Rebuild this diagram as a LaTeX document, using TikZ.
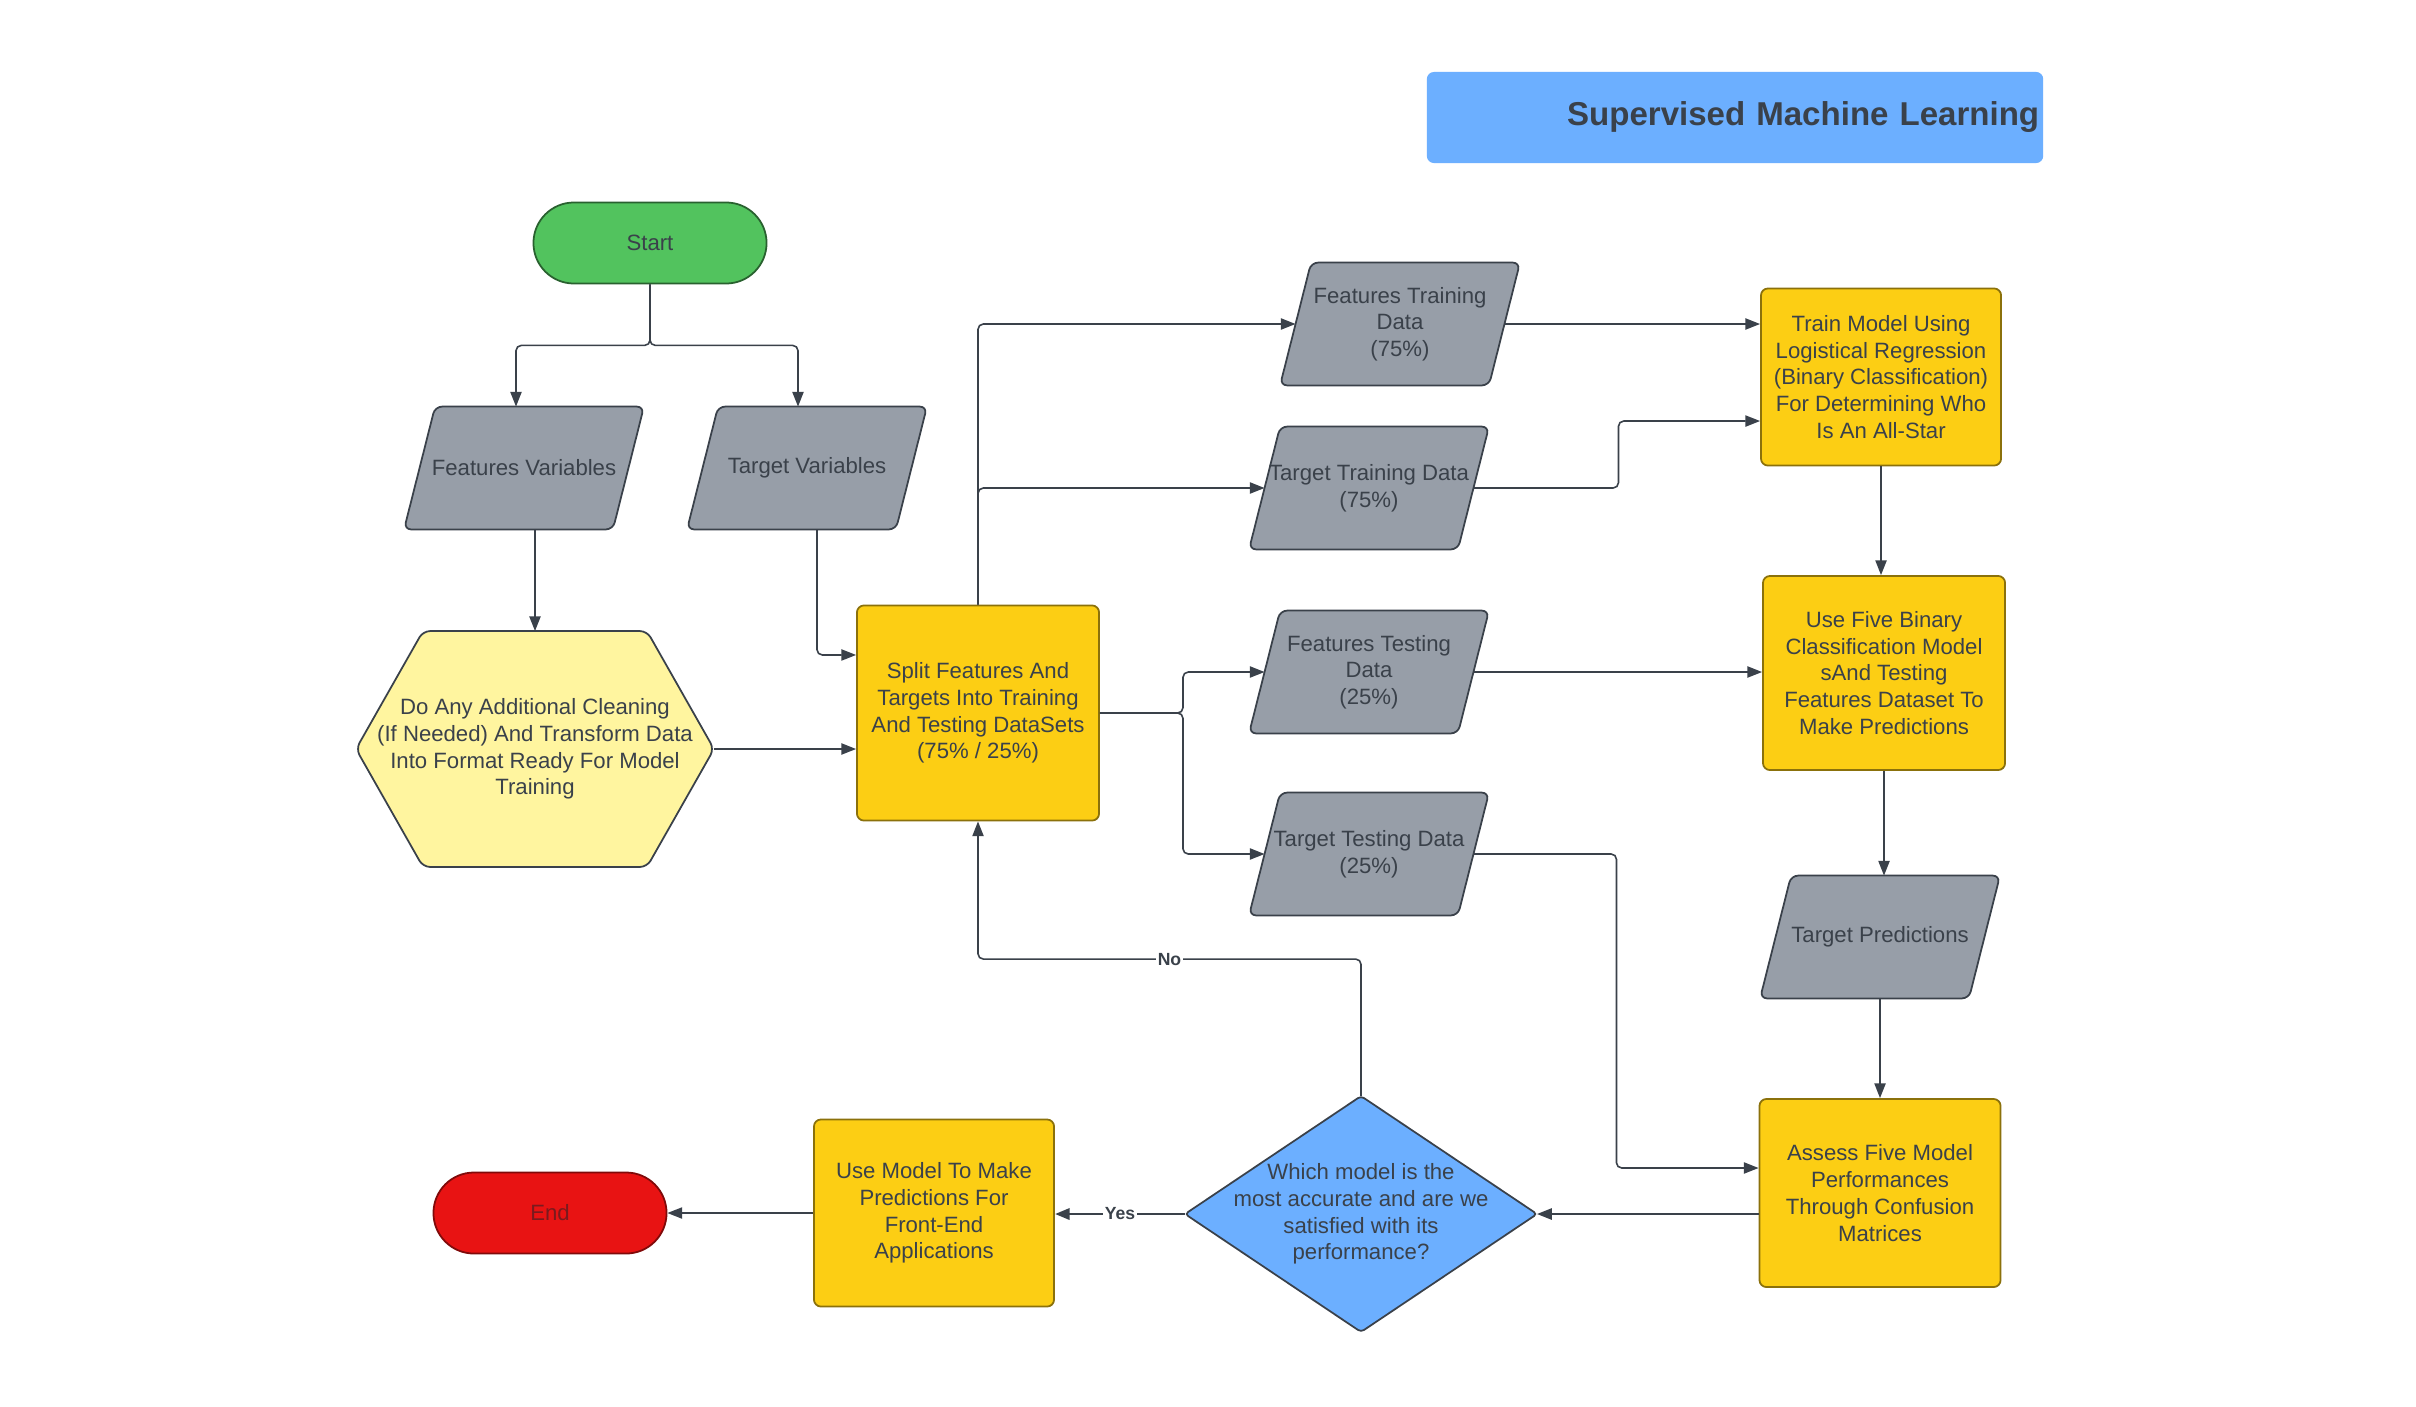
\documentclass[tikz,border=0pt]{standalone}
\usepackage{xcolor}
\usepackage{fontspec}
\setmainfont{Liberation Sans}
\usepackage{tikz}
\usetikzlibrary{shapes.geometric, shapes.misc, positioning, calc, backgrounds, arrows.meta}

\definecolor{txtgray}{HTML}{3A414A}
\definecolor{startgreen}{HTML}{52C35E}
\definecolor{datagray}{HTML}{979EA8}
\definecolor{procyellow}{HTML}{FCCE14}
\definecolor{prepyellow}{HTML}{FFF59F}
\definecolor{titleblue}{HTML}{6CAFFF}
\definecolor{endred}{HTML}{E81313}
\definecolor{endtext}{HTML}{7A1A1E}

\tikzset{
    base/.style={font=\fontsize{6.3}{7.6}\selectfont, text=txtgray, align=center, inner sep=1pt, line width=0.5pt},
    terminal/.style={base, rounded rectangle, minimum width=2.4cm, minimum height=0.81cm},
    databox/.style={base, rectangle, minimum width=2.38cm, minimum height=1.21cm},
    dataframe/.style={fill=datagray, draw=txtgray, line width=0.5pt, rounded corners=2pt},
    procbox/.style={base, rectangle, minimum width=2.4cm, fill=procyellow,
        draw=procyellow!55!black, rounded corners=2pt},
    link/.style={line width=0.45pt, draw=txtgray, -{Triangle[length=4.2pt,width=3.2pt]}, rounded corners=1.5pt},
    edgelabel/.style={font=\bfseries\fontsize{5}{6}\selectfont, text=txtgray, fill=white, inner sep=0.5pt}
}

\begin{document}
\begin{tikzpicture}[x=0.01cm, y=-0.01cm]
    \useasboundingbox (0,0) rectangle (2416,1406);

    % title
    \node[rectangle, fill=titleblue, rounded corners=2pt, minimum height=0.91cm,
        text width=6.08cm, inner xsep=0.04cm, align=right, text=txtgray,
        font=\bfseries\fontsize{9.4}{11}\selectfont] (title) at (1735,117.5) {Supervised Machine Learning};

    % left column
    \node[terminal, fill=startgreen, draw=startgreen!50!black] (start) at (650,243) {Start};
    \node[databox] (fv) at (524,468) {Features Variables};
    \node[databox] (tv) at (807,468) {Target Variables};
    \node[base, rectangle, minimum width=3.56cm, minimum height=2.34cm] (clean) at (535,749)
        {Do Any Additional Cleaning\\(If Needed) And Transform Data\\Into Format Ready For Model\\Training};
    \node[procbox, minimum width=2.42cm, minimum height=2.15cm] (split) at (978,713)
        {Split Features And\\Targets Into Training\\And Testing DataSets\\(75\% / 25\%)};

    % data sets
    \node[databox] (ftr) at (1400,324) {Features Training\\Data\\(75\%)};
    \node[databox] (ttr) at (1369,488) {Target Training Data\\(75\%)};
    \node[databox] (ftst) at (1369,672) {Features Testing\\Data\\(25\%)};
    \node[databox] (ttst) at (1369,854) {Target Testing Data\\(25\%)};

    % right column
    \node[procbox, minimum height=1.77cm] (train) at (1881,377)
        {Train Model Using\\Logistical Regression\\(Binary Classification)\\For Determining Who\\Is An All-Star};
    \node[procbox, minimum width=2.42cm, minimum height=1.94cm] (five) at (1884,673)
        {Use Five Binary\\Classification Model\\sAnd Testing\\Features Dataset To\\Make Predictions};
    \node[databox] (pred) at (1880,937) {Target Predictions};
    \node[procbox, minimum width=2.41cm, minimum height=1.88cm] (assess) at (1880,1193)
        {Assess Five Model\\Performances\\Through Confusion\\Matrices};

    % bottom row
    \node[base, rectangle, minimum width=3.5cm, minimum height=2.34cm] (dec) at (1361,1214)
        {Which model is the\\most accurate and are we\\satisfied with its\\performance?};
    \node[procbox, minimum height=1.87cm] (use) at (934,1213)
        {Use Model To Make\\Predictions For\\Front-End\\Applications};
    \node[terminal, fill=endred, draw=endred!55!black, text=endtext] (end) at (550,1213) {End};

    % parallelogram, hexagon and diamond outlines
    \begin{scope}[on background layer]
        \fill[white] (0,0) rectangle (2416,1406);
        \foreach \n in {fv,tv,ftr,ttr,ftst,ttst,pred}
            \draw[dataframe] (\n.south west) -- ($(\n.north west)+(31,0)$) -- (\n.north east)
                -- ($(\n.south east)+(-31,0)$) -- cycle;
        \draw[fill=prepyellow, draw=txtgray, line width=0.5pt, rounded corners=2pt]
            (clean.west) -- ($(clean.north west)+(67,0)$) -- ($(clean.north east)+(-67,0)$)
            -- (clean.east) -- ($(clean.south east)+(-67,0)$) -- ($(clean.south west)+(67,0)$) -- cycle;
        \draw[fill=titleblue, draw=txtgray, line width=0.5pt, rounded corners=1pt]
            (dec.north) -- (dec.east) -- (dec.south) -- (dec.west) -- cycle;
    \end{scope}

    % connectors
    \draw[link] (start.south) -- ++(0,61) -| ([xshift=-0.08cm]fv.north);
    \draw[link] (start.south) -- ++(0,61) -| ([xshift=-0.09cm]tv.north);
    \draw[link] (clean.north |- fv.south) -- (clean.north);
    \draw[link] ([xshift=0.1cm]tv.south) |- ([yshift=0.58cm]split.west);
    \draw[link] (clean.east) -- (clean.east -| split.west);

    \draw[link] (split.north) |- ([xshift=0.155cm]ftr.west);
    \draw[link] (split.north) |- ([xshift=0.155cm]ttr.west);
    \coordinate (fork) at ($(split.east)+(83,0)$);
    \draw[link] (split.east) -- (fork) |- ([xshift=0.155cm]ftst.west);
    \draw[link] (split.east) -- (fork) |- ([xshift=0.155cm]ttst.west);

    \draw[link] ([xshift=-0.155cm]ftr.east) -- (ftr.east -| train.west);
    \draw[link] ([xshift=-0.155cm]ttr.east) -- ++(145,0) |- ([yshift=-0.44cm]train.west);
    \draw[link] (train.south) -- (train.south |- five.north);
    \draw[link] ([xshift=-0.155cm]ftst.east) -- (ftst.east -| five.west);
    \draw[link] (five.south) -- (five.south |- pred.north);
    \draw[link] (pred.south) -- (pred.south |- assess.north);
    \draw[link] ([xshift=-0.155cm]ttst.east) -- ++(143,0) |- ([yshift=0.25cm]assess.west);

    \draw[link] (assess.west |- dec.east) -- (dec.east);
    \draw[link] (dec.north) -- ++(0,-137) -| node[edgelabel, pos=0.25] {No} (split.south);
    \draw[link, line width=0.8pt] (dec.west) -- node[edgelabel] {Yes} (dec.west -| use.east);
    \draw[link] (use.west) -- (end.east);
\end{tikzpicture}
\end{document}
